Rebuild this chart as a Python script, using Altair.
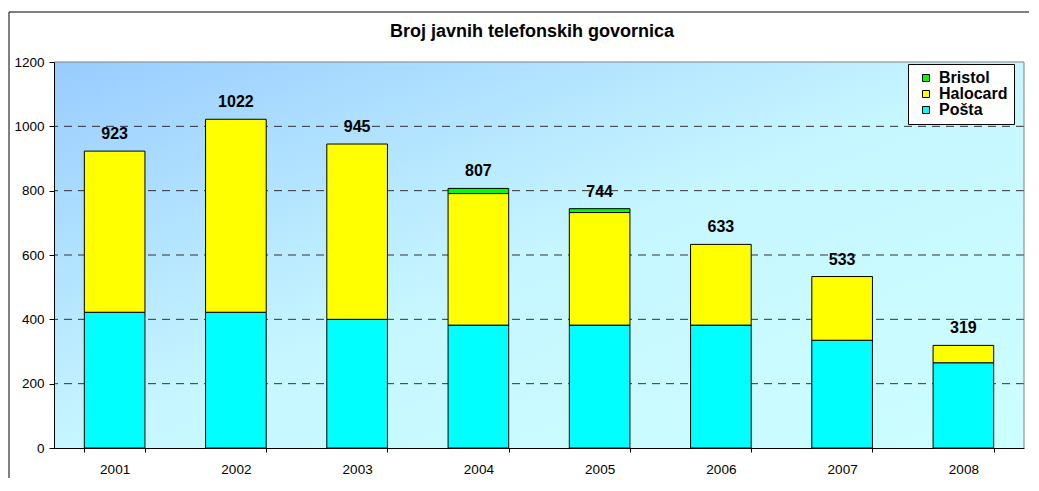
import altair as alt
import pandas as pd

years = ["2001", "2002", "2003", "2004", "2005", "2006", "2007", "2008"]
posta = [422, 422, 400, 382, 382, 382, 335, 265]
halocard = [501, 600, 545, 409, 350, 251, 198, 54]
bristol = [0, 0, 0, 16, 12, 0, 0, 0]
totals = [923, 1022, 945, 807, 744, 633, 533, 319]
series_names = ["Bristol", "Halocard", "Pošta"]
series_colors = ["#00FF00", "#FFFF00", "#00FFFF"]
y_ticks = [0, 200, 400, 600, 800, 1000, 1200]
grid_values = [200, 400, 600, 800, 1000]
title_text = "Broj javnih telefonskih govornica"

rows = []
for i, yr in enumerate(years):
    for name, vals, ordv in (("Pošta", posta, 0), ("Halocard", halocard, 1), ("Bristol", bristol, 2)):
        if vals[i] > 0:
            rows.append({"year": yr, "series": name, "value": vals[i], "ord": ordv})
bars_df = pd.DataFrame(rows)
tot_df = pd.DataFrame({"year": years, "total": totals})
grid_df = pd.DataFrame({"v": grid_values})
top_df = pd.DataFrame({"v": [y_ticks[-1]]})
one = pd.DataFrame({"a": [0]})

W, H = 970, 386

x_scale = alt.Scale(domain=years, paddingInner=0.5, paddingOuter=0.25)
y_scale = alt.Scale(domain=[0, 1200], nice=False)
x_axis = alt.Axis(title=None, labelAngle=0, tickBand="extent", tickSize=4, labelPadding=10,
                  labelFontSize=13.5, labelColor="black", domainColor="black", tickColor="black",
                  grid=False, zindex=1)
y_axis = alt.Axis(title=None, values=y_ticks, format="d", tickSize=5, labelPadding=5, labelFontSize=13.5,
                  labelColor="black", domainColor="black", tickColor="black", grid=False, zindex=1)

bg = alt.Chart(one).mark_rect(
    color=alt.LinearGradient(
        gradient="linear",
        stops=[alt.GradientStop(color="#99CCFF", offset=0),
               alt.GradientStop(color="#C6F6FF", offset=0.5),
               alt.GradientStop(color="#CCFFFF", offset=1)],
        x1=0, y1=0, x2=1, y2=1)
).encode(x=alt.value(0), x2=alt.value("width"), y=alt.value(0), y2=alt.value("height"))

grid = alt.Chart(grid_df).mark_rule(color="#333333", strokeDash=[8, 6], strokeWidth=1).encode(
    y=alt.Y("v:Q", scale=y_scale, axis=y_axis))

frame_top = alt.Chart(top_df).mark_rule(color="#808080", strokeWidth=1).encode(
    y=alt.Y("v:Q", scale=y_scale, axis=y_axis))
frame_right = alt.Chart(one).mark_rule(color="#808080", strokeWidth=1).encode(
    x=alt.value(W), y=alt.value(0), y2=alt.value(H))

bars = alt.Chart(bars_df).mark_bar(stroke="black", strokeWidth=1).encode(
    x=alt.X("year:N", scale=x_scale, axis=x_axis),
    y=alt.Y("value:Q", stack="zero", scale=y_scale, axis=y_axis),
    color=alt.Color("series:N", scale=alt.Scale(domain=series_names, range=series_colors),
                    legend=alt.Legend(orient="none", legendX=854, legendY=2, title=None,
                                      fillColor="white", strokeColor="black", padding=6,
                                      symbolType="square", symbolSize=49, symbolStrokeColor="black",
                                      symbolStrokeWidth=1, symbolOffset=4, labelFontSize=16,
                                      labelFontWeight="bold", labelColor="black", rowPadding=0,
                                      labelOffset=5)),
    order=alt.Order("ord:Q", sort="ascending"))

labels = alt.Chart(tot_df).mark_text(dy=-12, baseline="alphabetic", fontSize=16, fontWeight="bold",
                                     color="black").encode(
    x=alt.X("year:N", scale=x_scale, axis=x_axis),
    y=alt.Y("total:Q", scale=y_scale, axis=y_axis),
    text=alt.Text("total:Q", format="d"))

title = alt.Chart(one).mark_text(text=title_text, fontSize=18, fontWeight="bold",
                                 baseline="alphabetic", align="center", color="black").encode(
    x=alt.value(478), y=alt.value(-25))

border_l = alt.Chart(one).mark_rule(color="black", strokeWidth=1).encode(
    x=alt.value(-45), y=alt.value(-50), y2=alt.value(416))
border_t = alt.Chart(one).mark_rule(color="black", strokeWidth=1).encode(
    x=alt.value(-45), x2=alt.value(975), y=alt.value(-50))

chart = alt.layer(bg, grid, frame_top, frame_right, bars, labels, title, border_l, border_t).properties(
    width=W, height=H, padding={"left": 0, "top": 3, "right": 0, "bottom": 0}
).configure(font="Liberation Sans").configure_view(stroke=None)

chart.save("out.html", embed_options={"renderer": "svg", "actions": False})
